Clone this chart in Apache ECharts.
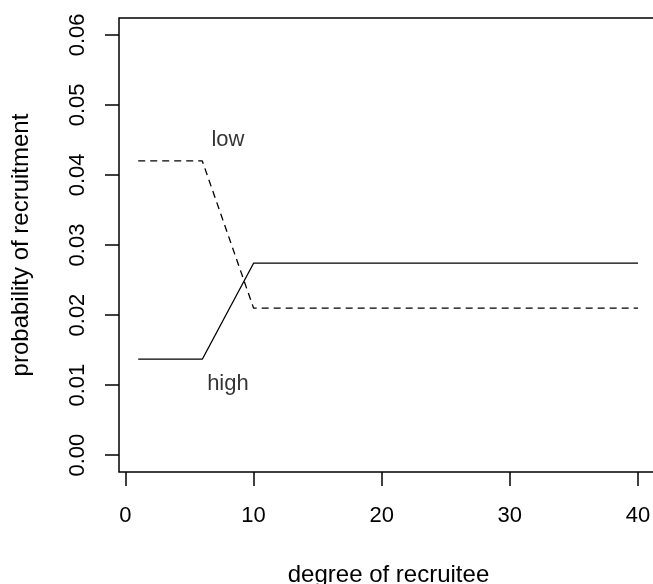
<!DOCTYPE html>
<html>
<head>
<meta charset="utf-8">
<script src="https://cdn.jsdelivr.net/npm/echarts@6/dist/echarts.min.js"></script>
<style>
  html, body { margin: 0; padding: 0; background: #fff; }
  #chart { width: 653px; height: 584px; }
</style>
</head>
<body>
<div id="chart"></div>
<script>
// Recruitment probability by degree of the recruitee, for low- and high-degree recruiters
const degreeLow = [1, 6, 10, 40];
const probLow = [0.042, 0.042, 0.021, 0.021];
const degreeHigh = [1, 6, 10, 40];
const probHigh = [0.0137, 0.0137, 0.0274, 0.0274];

// Curve annotations
const noteNames = ['low', 'high'];
const noteX = [8, 8];
const noteY = [0.045, 0.0102];

// Axis ticks
const xTicks = [0, 10, 20, 30, 40];
const yTicks = [0, 0.01, 0.02, 0.03, 0.04, 0.05, 0.06];

const FONT = 'Liberation Sans, Arial, Helvetica, sans-serif';
const TICK_FS = 22;
const TITLE_FS = 24;

const chart = echarts.init(document.getElementById('chart'), null, { renderer: 'canvas' });

const pairs = (xs, ys) => xs.map((x, i) => [x, ys[i]]);

chart.setOption({
  animation: false,
  backgroundColor: '#ffffff',
  grid: {
    left: 119, top: 18, width: 539, height: 454,
    outerBoundsMode: 'none',
    show: true, borderColor: '#000', borderWidth: 1.5, backgroundColor: 'transparent'
  },
  xAxis: {
    type: 'value',
    min: -0.5, max: 41.56,
    name: 'degree of recruitee',
    nameLocation: 'middle',
    nameGap: 91,
    nameTextStyle: { color: '#000', fontFamily: FONT, fontSize: TITLE_FS },
    axisLine: { show: false, onZero: false },
    splitLine: { show: false },
    axisTick: { show: true, inside: false, length: 14, customValues: xTicks,
      lineStyle: { color: '#000', width: 1.5 } },
    axisLabel: { show: true, customValues: xTicks, margin: 33, color: '#000',
      fontFamily: FONT, fontSize: TICK_FS }
  },
  yAxis: {
    type: 'value',
    min: -0.0024, max: 0.0624,
    name: 'probability of recruitment',
    nameLocation: 'middle',
    nameGap: 86,
    nameRotate: 90,
    nameTextStyle: { color: '#000', fontFamily: FONT, fontSize: TITLE_FS },
    axisLine: { show: false, onZero: false },
    splitLine: { show: false },
    axisTick: { show: true, inside: false, length: 14, customValues: yTicks,
      lineStyle: { color: '#000', width: 1.5 } },
    axisLabel: { show: true, customValues: yTicks, rotate: 90, margin: 30, color: '#000',
      fontFamily: FONT, fontSize: TICK_FS,
      formatter: v => v.toFixed(2) }
  },
  series: [
    {
      name: 'low', type: 'line', symbol: 'none',
      data: pairs(degreeLow, probLow),
      lineStyle: { color: '#000', width: 1.3, type: [7, 5] }
    },
    {
      name: 'high', type: 'line', symbol: 'none',
      data: pairs(degreeHigh, probHigh),
      lineStyle: { color: '#000', width: 1.3, type: 'solid' }
    },
    {
      name: 'notes', type: 'scatter', symbolSize: 0,
      data: noteNames.map((n, i) => ({ value: [noteX[i], noteY[i]], name: n })),
      label: { show: true, position: 'inside', formatter: p => p.name,
        color: '#000', fontFamily: FONT, fontSize: TICK_FS }
    }
  ]
});
</script>
</body>
</html>
